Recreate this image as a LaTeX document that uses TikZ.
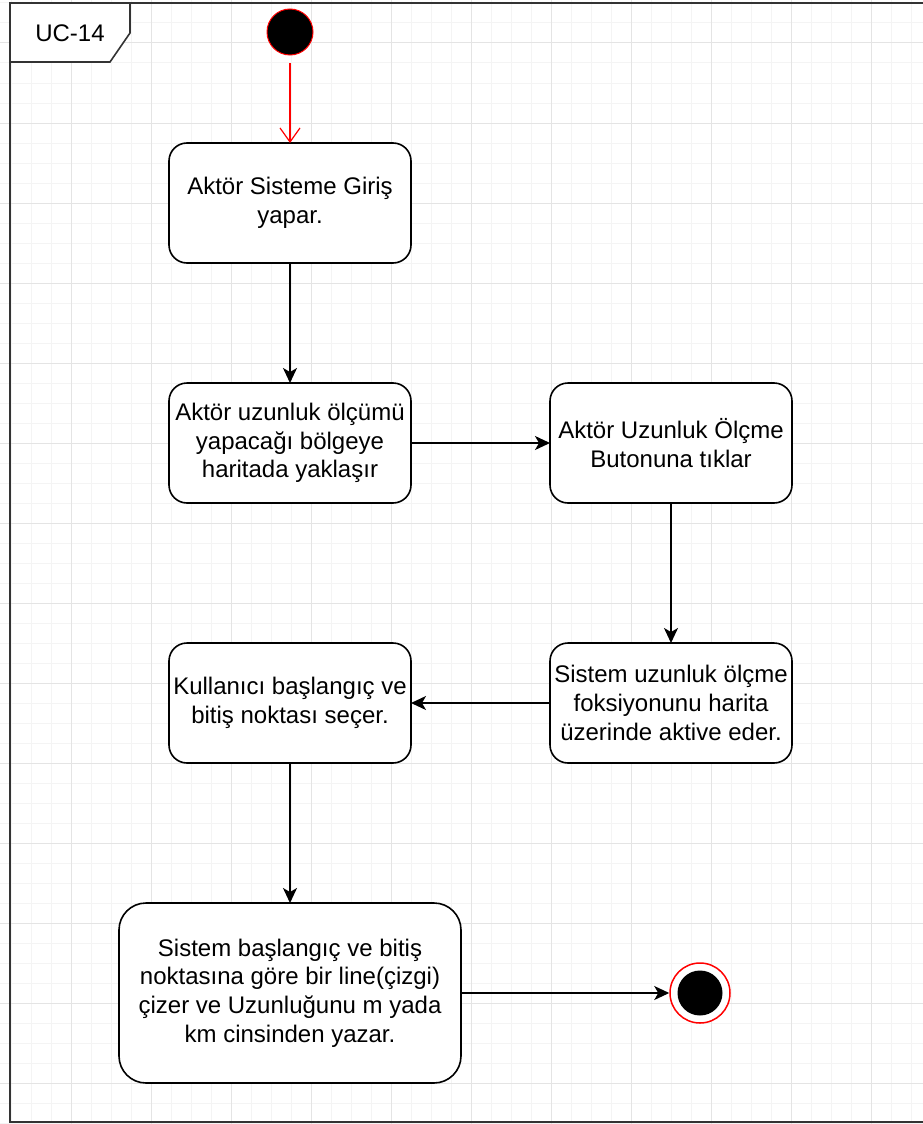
\documentclass[tikz,border=0pt]{standalone}
\usepackage{fontspec}
\setmainfont{Liberation Sans}
\usetikzlibrary{arrows.meta}
\definecolor{gridminor}{RGB}{244,244,244}
\definecolor{gridmajor}{RGB}{228,228,228}
\definecolor{framegray}{RGB}{51,51,51}
\definecolor{startred}{RGB}{255,0,0}

\begin{document}
\begin{tikzpicture}[x=1pt,y=-1pt,
  txt/.style={font=\fontsize{24}{28.8}\selectfont, align=center},
  actbox/.style={txt, draw=black, line width=1.6pt, fill=white,
    rounded corners=18pt, minimum width=242pt, minimum height=120pt,
    inner sep=0pt, outer sep=0pt},
  bigbox/.style={actbox, rounded corners=27pt, minimum width=342pt, minimum height=180pt},
  flow/.style={draw=black, line width=1.6pt, -{Stealth[length=15pt,width=14pt,inset=4pt]}},
  startflow/.style={draw=startred, line width=1.2pt, -{Straight Barb[length=14pt,width=20pt]}, shorten <=8pt},
]
\useasboundingbox (0,0) rectangle (923,1124);

% background grid
\foreach \x in {11,31,...,911} \draw[gridminor, line width=1pt] (\x,0) -- (\x,1124);
\foreach \y in {3,23,...,1123} \draw[gridminor, line width=1pt] (0,\y) -- (923,\y);
\foreach \x in {71,151,...,871} \draw[gridmajor, line width=1pt] (\x,0) -- (\x,1124);
\foreach \y in {43,123,...,1083} \draw[gridmajor, line width=1pt] (0,\y) -- (923,\y);

% activity frame with its name tab
\draw[framegray, line width=2pt] (930,3) -- (10,3) -- (10,1122) -- (930,1122);
\draw[framegray, line width=1.6pt, fill=white] (10,3) -- (130,3) -- (130,33) -- (110,62) -- (10,62) -- cycle;
\node[txt] (title) at (70,33) {UC-14};

% initial and final states
\node[circle, draw=startred, fill=black, line width=1pt, minimum size=46pt, inner sep=0pt] (start) at (290,32) {};
\node[circle, draw=startred, fill=white, line width=1.5pt, minimum size=60pt, inner sep=0pt] (end) at (700,993) {};
\node[circle, fill=black, minimum size=45pt, inner sep=0pt] (endcore) at (700,993) {};

% actions
\node[actbox] (login) at (290,203) {Aktör Sisteme Giriş\\yapar.};
\node[actbox] (zoom) at (290,443) {Aktör uzunluk ölçümü\\yapacağı bölgeye\\haritada yaklaşır};
\node[actbox] (button) at (671,443) {Aktör Uzunluk Ölçme\\Butonuna tıklar};
\node[actbox] (activate) at (671,703) {Sistem uzunluk ölçme\\foksiyonunu harita\\üzerinde aktive eder.};
\node[actbox] (select) at (290,703) {Kullanıcı başlangıç ve\\bitiş noktası seçer.};
\node[bigbox] (draw) at (290,993) {Sistem başlangıç ve bitiş\\noktasına göre bir line(çizgi)\\çizer ve Uzunluğunu m yada\\km cinsinden yazar.};

% control flow
\draw[startflow] (start) -- (login);
\draw[flow] (login) -- (zoom);
\draw[flow] (zoom) -- (button);
\draw[flow] (button) -- (activate);
\draw[flow] (activate) -- (select);
\draw[flow] (select) -- (draw);
\draw[flow] (draw) -- (end);
\end{tikzpicture}
\end{document}
